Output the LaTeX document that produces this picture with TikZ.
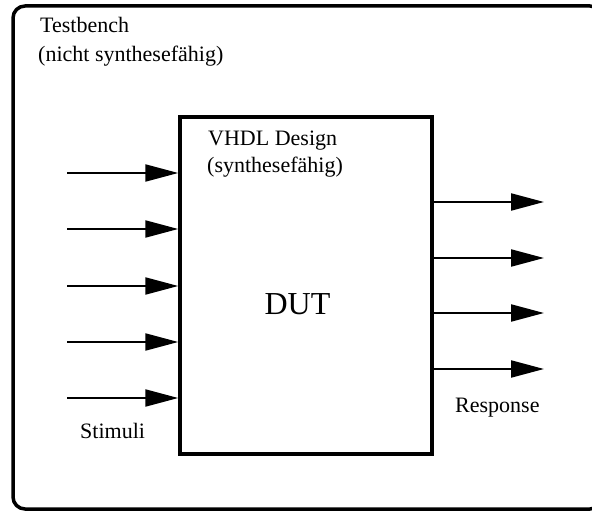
\documentclass[tikz,border=0pt]{standalone}
\usepackage{fontspec}
\setmainfont{Liberation Serif}
\usetikzlibrary{arrows.meta}
\begin{document}
\begin{tikzpicture}[x=1pt,y=-1pt,
  frame/.style={draw=black,line width=3.5pt},
  sig/.style={draw=black,line width=2.2pt,-{Triangle[length=33pt,width=17pt]}},
  lbl/.style={inner sep=0pt,anchor=base west,font=\fontsize{22}{26}\selectfont}]
\useasboundingbox (0,0) rectangle (592,513);
\clip (0,0) rectangle (592,513);
\fill[white] (0,0) rectangle (592,513);
% outer testbench frame (right side cut off)
\draw[frame,rounded corners=12pt] (13,6) rectangle (602,509);
\node[lbl] (tb1) at (40,33) {Testbench};
\node[lbl] (tb2) at (38,62) {(nicht synthesefähig)};
% DUT box
\node[frame,rectangle,minimum width=252pt,minimum height=337pt,inner sep=0pt] (dut) at (306,285.5) {};
\node[lbl] (vh1) at (208,146) {VHDL Design};
\node[lbl] (vh2) at (207,173) {(synthesefähig)};
\node[inner sep=0pt,anchor=base,font=\fontsize{32}{38}\selectfont] (dutl) at (297.5,314) {DUT};
% inputs
\coordinate (i1) at (67,173);
\coordinate (i2) at (67,229);
\coordinate (i3) at (67,286);
\coordinate (i4) at (67,342);
\coordinate (i5) at (67,398);
\foreach \k in {1,...,5}{\draw[sig] (i\k) -- (dut.west |- i\k);}
% outputs
\coordinate (o1) at (544,202);
\coordinate (o2) at (544,258);
\coordinate (o3) at (544,313);
\coordinate (o4) at (544,369);
\foreach \k in {1,...,4}{\draw[sig] (dut.east |- o\k) -- (o\k);}
\node[lbl] (stim) at (80,438) {Stimuli};
\node[lbl] (resp) at (455,412) {Response};
\end{tikzpicture}
\end{document}
